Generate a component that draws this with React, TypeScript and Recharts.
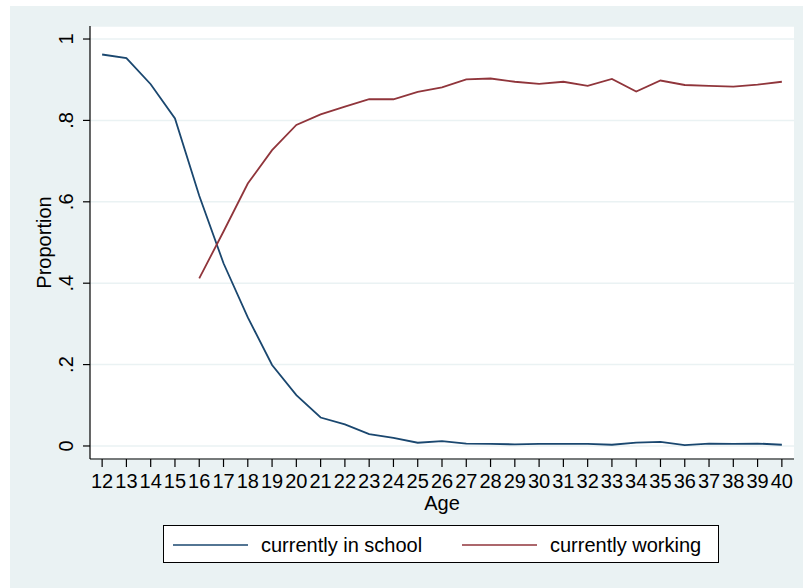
import React from 'react';
import { LineChart, Line, XAxis, YAxis, CartesianGrid, Legend } from 'recharts';

// Ages on the horizontal axis
const ages = [12, 13, 14, 15, 16, 17, 18, 19, 20, 21, 22, 23, 24, 25, 26, 27, 28, 29, 30, 31, 32, 33, 34, 35, 36, 37, 38, 39, 40];

// Share of people currently in school, by age
const inSchool = [0.962, 0.953, 0.889, 0.805, 0.615, 0.449, 0.316, 0.199, 0.125, 0.070, 0.053, 0.029, 0.020, 0.008, 0.012, 0.006, 0.005, 0.004, 0.005, 0.005, 0.005, 0.003, 0.008, 0.010, 0.002, 0.006, 0.005, 0.006, 0.003];

// Share of people currently working, by age (not observed before 16)
const working = [null, null, null, null, 0.412, 0.527, 0.645, 0.727, 0.789, 0.815, 0.834, 0.852, 0.852, 0.870, 0.881, 0.901, 0.903, 0.895, 0.890, 0.895, 0.885, 0.902, 0.871, 0.898, 0.887, 0.885, 0.883, 0.888, 0.895];

const yTicks = [0, 0.2, 0.4, 0.6, 0.8, 1];

const seriesNames = { school: 'currently in school', work: 'currently working' };

const data = ages.map((age, i) => ({ age, school: inSchool[i], work: working[i] }));

const FONT = '"Liberation Sans", Arial, Helvetica, sans-serif';
const BLUE = '#1a476f';
const RED = '#90353b';
const BG = '#eaf2f3';

const fmtY = (v: number) => {
  if (v === 0) return '0';
  if (v === 1) return '1';
  return String(Number(v.toFixed(1))).replace(/^0/, '');
};

const YTick = (props: any) => {
  const { x, y, payload } = props;
  const bx = x - 8;
  return (
    <text x={bx} y={y} transform={`rotate(-90 ${bx} ${y})`} textAnchor="middle" fontFamily={FONT} fontSize={20} fill="#000">
      {fmtY(payload.value)}
    </text>
  );
};

const XTick = (props: any) => {
  const { x, payload } = props;
  return (
    <text x={x} y={488} textAnchor="middle" fontFamily={FONT} fontSize={20} fill="#000">
      {payload.value}
    </text>
  );
};

const LegendBox = () => (
  <div
    style={{
      boxSizing: 'border-box',
      width: 556,
      height: 38,
      border: '1px solid #000',
      background: '#fff',
      position: 'relative',
      fontFamily: FONT,
      fontSize: 20,
      color: '#000',
    }}
  >
    <svg width={556} height={38} style={{ position: 'absolute', left: -1, top: -1 }}>
      <line x1={10} x2={85} y1={20} y2={20} stroke={BLUE} strokeWidth={1.6} />
      <text x={98} y={27} fontFamily={FONT} fontSize={20} fill="#000">{seriesNames.school}</text>
      <line x1={299} x2={374} y1={20} y2={20} stroke={RED} strokeWidth={1.6} />
      <text x={387} y={27} fontFamily={FONT} fontSize={20} fill="#000">{seriesNames.work}</text>
    </svg>
  </div>
);

export default function App() {
  return (
    <div style={{ position: 'absolute', left: 0, top: 0, width: 803, height: 588, background: '#fff', overflow: 'hidden' }}>
      <div style={{ position: 'absolute', left: 10, top: 6, width: 793, height: 582, background: BG }} />
      <div style={{ position: 'absolute', left: 0, top: 0 }}>
        <LineChart width={803} height={588} data={data} margin={{ top: 26, right: 9, bottom: 61, left: 30 }}>
          <CartesianGrid horizontal vertical={false} fill="#fff" stroke={BG} strokeWidth={1.5} />
          <XAxis
            dataKey="age"
            type="number"
            domain={[11.5, 40.5]}
            ticks={ages}
            interval={0}
            allowDataOverflow
            height={30}
            tickSize={8}
            tick={<XTick />}
            axisLine={{ stroke: '#000', strokeWidth: 1.2 }}
            tickLine={{ stroke: '#000', strokeWidth: 1.2 }}
            label={{
              content: () => (
                <text x={442} y={510} textAnchor="middle" fontFamily={FONT} fontSize={20} fill="#000">Age</text>
              ),
            }}
          />
          <YAxis
            type="number"
            domain={[-0.032, 1.032]}
            ticks={yTicks}
            allowDataOverflow
            width={60}
            tickSize={7}
            tick={<YTick />}
            axisLine={{ stroke: '#000', strokeWidth: 1.2 }}
            tickLine={{ stroke: '#000', strokeWidth: 1.2 }}
            label={{
              content: () => (
                <text x={51} y={242.5} transform="rotate(-90 51 242.5)" textAnchor="middle" fontFamily={FONT} fontSize={20} fill="#000">
                  Proportion
                </text>
              ),
            }}
          />
          <Line dataKey="school" name={seriesNames.school} stroke={BLUE} strokeWidth={1.8} dot={false} isAnimationActive={false} />
          <Line dataKey="work" name={seriesNames.work} stroke={RED} strokeWidth={1.8} dot={false} isAnimationActive={false} />
          <Legend content={<LegendBox />} wrapperStyle={{ top: 525, left: 163, width: 556, height: 38 }} />
        </LineChart>
      </div>
    </div>
  );
}
